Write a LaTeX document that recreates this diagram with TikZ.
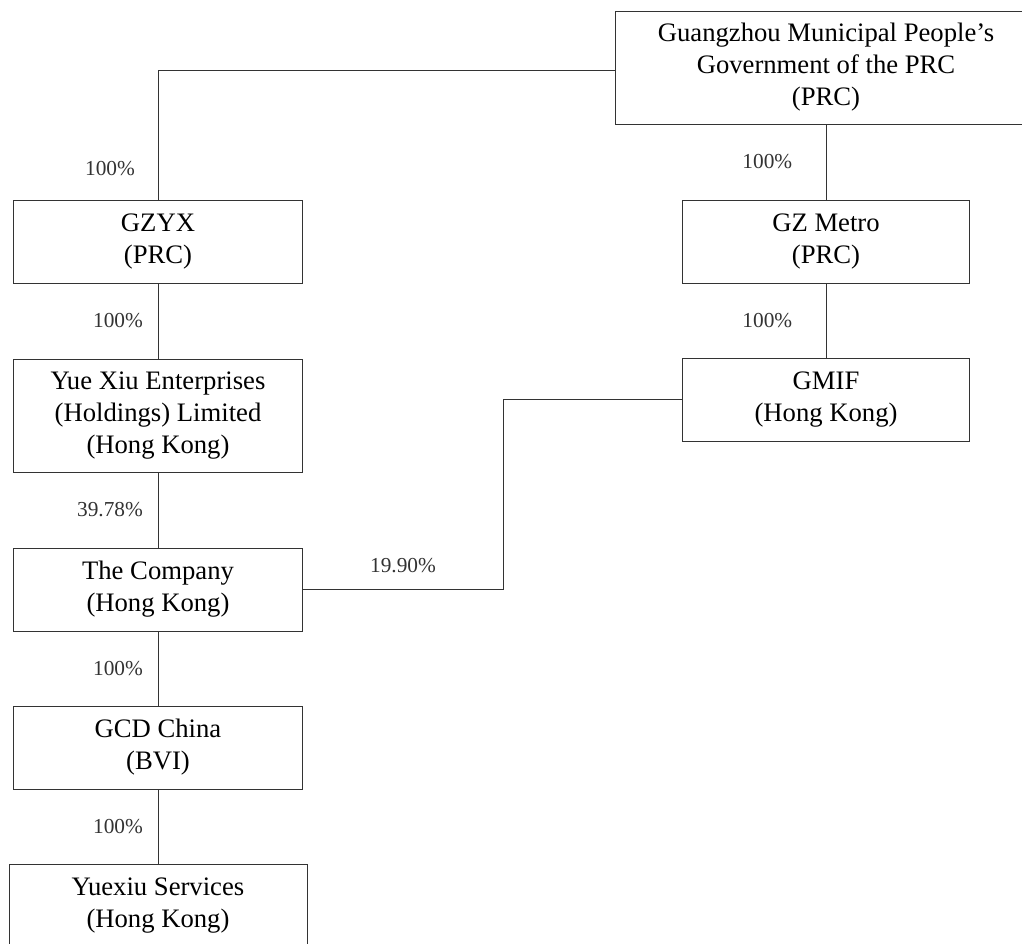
\documentclass[tikz,border=0pt]{standalone}
\usepackage{fontspec}
\setmainfont{Liberation Serif}
\usepackage{tikz}

\begin{document}
\begin{tikzpicture}[x=0.75pt,y=-0.75pt]
    \tikzstyle{entity} = [rectangle,minimum width=216.75pt,minimum height=62.25pt,align=center,draw=black!80,line width=0.7pt,fill=white,font=\fontsize{20}{24}\selectfont]
    \tikzstyle{share} = [inner sep=0pt,font=\fontsize{16}{19}\selectfont]
    \path[use as bounding box,clip] (0,0) rectangle (1022,944);
    \node (gzgov)[entity,minimum width=316.5pt,minimum height=84.75pt] at (826,67.5) {Guangzhou Municipal People's\\Government of the PRC\\(PRC)};
    \node (metro)[entity,node distance=130.5pt,below of=gzgov,minimum width=215.25pt]{GZ Metro\\(PRC)};
    \node (gmif)[entity,node distance=118.5pt,below of=metro,minimum width=215.25pt]{GMIF\\(Hong Kong)};
    \node (gzyx)[entity,node distance=501pt,left of=metro]{GZYX\\(PRC)};
    \node (yuexiu)[entity,node distance=130.5pt,below of=gzyx,minimum height=84.75pt]{Yue Xiu Enterprises\\(Holdings) Limited\\(Hong Kong)};
    \node (company)[entity,node distance=130.5pt,below of=yuexiu]{The Company\\(Hong Kong)};
    \node (gcd)[entity,node distance=118.5pt,below of=company]{GCD China\\(BVI)};
    \node (services)[entity,node distance=118.5pt,below of=gcd,minimum width=223.5pt]{Yuexiu Services\\(Hong Kong)};
    \draw [black!80,line width=0.7pt] ([yshift=-2.5pt]gzgov.west) -| node [share,pos=0.88,left=17pt]{100\%} (gzyx.north);
    \draw [black!80,line width=0.7pt] (gzgov.south) -- node [share,left=25pt]{100\%} (metro.north);
    \draw [black!80,line width=0.7pt] (metro.south) -- node [share,left=25pt]{100\%} (gmif.north);
    \draw [black!80,line width=0.7pt] (gzyx.south) -- node [share,left=11pt]{100\%} (yuexiu.north);
    \draw [black!80,line width=0.7pt] (yuexiu.south) -- node [share,left=11pt]{39.78\%} (company.north);
    \draw [black!80,line width=0.7pt] (company.south) -- node [share,left=11pt]{100\%} (gcd.north);
    \draw [black!80,line width=0.7pt] (gcd.south) -- node [share,left=11pt]{100\%} (services.north);
    \draw [black!80,line width=0.7pt] (company.east) -- node [share,above=12pt]{19.90\%} ++(150pt,0) |- (gmif.west);
\end{tikzpicture}
\end{document}
